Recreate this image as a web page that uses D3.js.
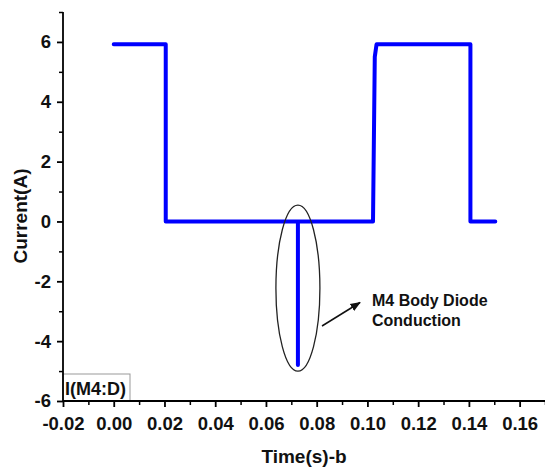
<!DOCTYPE html>
<html>
<head>
<meta charset="utf-8">
<script src="https://cdn.jsdelivr.net/npm/d3@7"></script>
<style>
  body { margin: 0; background: #fff; }
  svg { font-family: "Liberation Sans", Arial, sans-serif; font-weight: bold; }
  .axis text { font-size: 18.5px; font-weight: bold; fill: #111; }
</style>
</head>
<body>
<svg id="chart" width="545" height="468"></svg>
<script>
// waveform I(M4:D)
const timeValues = [0, 0.0205, 0.0205, 0.0726, 0.0726, 0.0726, 0.1022, 0.1029, 0.1036, 0.1406, 0.1406, 0.1504];
const currentValues = [5.92, 5.92, 0, 0, -4.8, 0, 0, 5.5, 5.92, 5.92, 0, 0];

const xTicks = [-0.02, 0.00, 0.02, 0.04, 0.06, 0.08, 0.10, 0.12, 0.14, 0.16];
const yTicks = [-6, -4, -2, 0, 2, 4, 6];

const width = 545;
const height = 468;
const margin = { top: 12, right: 0, bottom: 67, left: 63 };

const svg = d3.select('#chart');

const x = d3.scaleLinear()
    .domain([-0.02, 0.17])
    .range([margin.left, width - margin.right]);

const y = d3.scaleLinear()
    .domain([-6, 7])
    .range([height - margin.bottom, margin.top]);

const data = timeValues.map((t, i) => ({ t: t, v: currentValues[i] }));

// minor ticks first
const xMinor = d3.range(-0.01, 0.171, 0.02);
const yMinor = d3.range(-5, 7.1, 2);

svg.append('g')
    .attr('transform', `translate(0, ${y(-6)})`)
    .call(d3.axisBottom(x).tickValues(xMinor).tickSize(4).tickFormat(''))
    .call(g => g.select('.domain').remove())
    .selectAll('line').attr('stroke-width', 1.5);

svg.append('g')
    .attr('transform', `translate(${x(-0.02)}, 0)`)
    .call(d3.axisLeft(y).tickValues(yMinor).tickSize(4).tickFormat(''))
    .call(g => g.select('.domain').remove())
    .selectAll('line').attr('stroke-width', 1.5);

// legend box (bottom-left)
svg.append('rect')
    .attr('x', x(-0.02))
    .attr('y', y(-6) - 27)
    .attr('width', 67)
    .attr('height', 27)
    .attr('fill', 'none')
    .attr('stroke', '#999')
    .attr('stroke-width', 1);

svg.append('text')
    .attr('x', x(-0.02) + 2)
    .attr('y', y(-6) - 6)
    .attr('font-size', 18)
    .attr('fill', '#111')
    .text('I(M4:D)');

// main axes
const xAxis = svg.append('g')
    .attr('class', 'axis')
    .attr('transform', `translate(0, ${y(-6)})`)
    .call(d3.axisBottom(x).tickValues(xTicks).tickSize(6).tickPadding(10)
        .tickFormat(d => d3.format('.2f')(d).replace('−', '-')));

const yAxis = svg.append('g')
    .attr('class', 'axis')
    .attr('transform', `translate(${x(-0.02)}, 0)`)
    .call(d3.axisLeft(y).tickValues(yTicks).tickSize(6).tickPadding(6)
        .tickFormat(d => d3.format('d')(d).replace('−', '-')));

xAxis.select('.domain').attr('d', `M${x(-0.02)},0H${width}`);
yAxis.select('.domain').attr('d', `M0,${y(-6)}V${y(7)}`);
[xAxis, yAxis].forEach(g => {
    g.attr('font-size', null).attr('font-family', null);
    g.select('.domain').attr('stroke-width', 1.8);
    g.selectAll('line').attr('stroke-width', 1.8);
});

// the waveform
const line = d3.line()
    .x(d => x(d.t))
    .y(d => y(d.v));

svg.append('path')
    .datum(data)
    .attr('fill', 'none')
    .attr('stroke', '#0000ff')
    .attr('stroke-width', 4)
    .attr('stroke-linejoin', 'round')
    .attr('stroke-linecap', 'round')
    .attr('d', line);

// annotation: ellipse around the negative spike
const spikeT = 0.0726;
svg.append('ellipse')
    .attr('cx', x(spikeT))
    .attr('cy', y(-2.23))
    .attr('rx', 22)
    .attr('ry', 83)
    .attr('fill', 'none')
    .attr('stroke', '#222')
    .attr('stroke-width', 1.3);

svg.append('defs').append('marker')
    .attr('id', 'arrow')
    .attr('viewBox', '0 0 10 10')
    .attr('refX', 9)
    .attr('refY', 5)
    .attr('markerWidth', 7)
    .attr('markerHeight', 7)
    .attr('orient', 'auto')
    .append('path')
    .attr('d', 'M0,1L10,5L0,9Z')
    .attr('fill', '#111');

svg.append('line')
    .attr('x1', 322).attr('y1', 326)
    .attr('x2', 360).attr('y2', 302.5)
    .attr('stroke', '#111')
    .attr('stroke-width', 1.5)
    .attr('marker-end', 'url(#arrow)');

const note = svg.append('text')
    .attr('x', 372)
    .attr('y', 306)
    .attr('font-size', 16)
    .attr('fill', '#111');
note.append('tspan').attr('x', 372).text('M4 Body Diode');
note.append('tspan').attr('x', 372).attr('dy', 20).text('Conduction');

// axis titles
svg.append('text')
    .attr('x', (x(-0.02) + width) / 2)
    .attr('y', 463)
    .attr('text-anchor', 'middle')
    .attr('font-size', 19)
    .attr('fill', '#111')
    .text('Time(s)-b');

svg.append('text')
    .attr('transform', `translate(27, 216) rotate(-90)`)
    .attr('text-anchor', 'middle')
    .attr('font-size', 19)
    .attr('fill', '#111')
    .text('Current(A)');
</script>
</body>
</html>
